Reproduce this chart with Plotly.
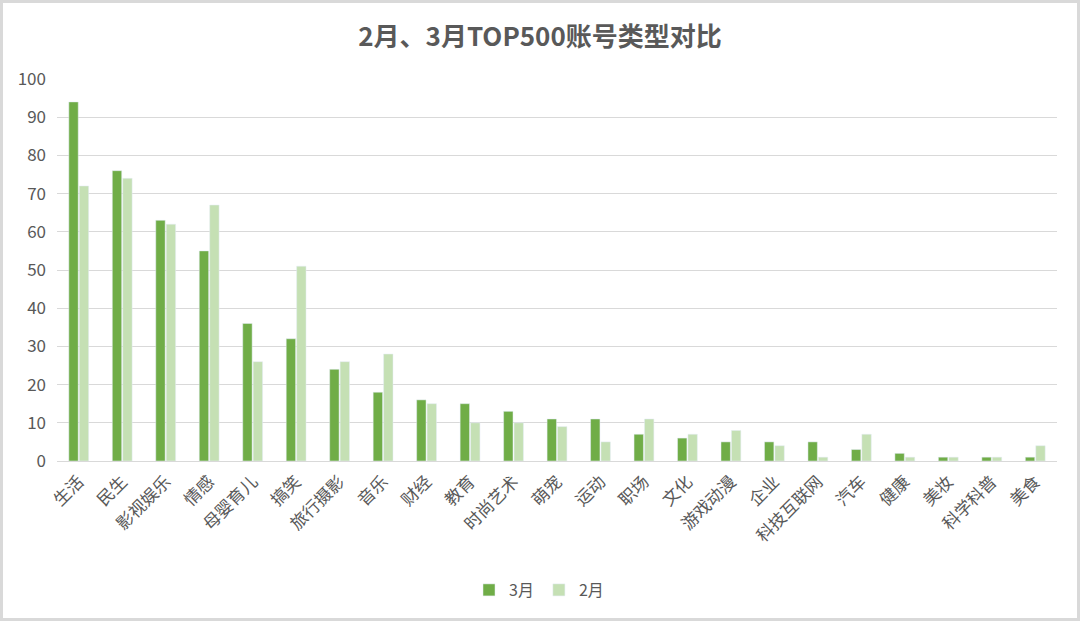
import plotly.graph_objects as go

categories = ["生活", "民生", "影视娱乐", "情感", "母婴育儿", "搞笑", "旅行摄影", "音乐", "财经", "教育",
              "时尚艺术", "萌宠", "运动", "职场", "文化", "游戏动漫", "企业", "科技互联网", "汽车", "健康",
              "美妆", "科学科普", "美食"]
march = [94, 76, 63, 55, 36, 32, 24, 18, 16, 15, 13, 11, 11, 7, 6, 5, 5, 5, 3, 2, 1, 1, 1]
feb = [72, 74, 62, 67, 26, 51, 26, 28, 15, 10, 10, 9, 5, 11, 7, 8, 4, 1, 7, 1, 1, 1, 4]
y_ticks = [0, 10, 20, 30, 40, 50, 60, 70, 80, 90, 100]

W, H = 1080, 621
L, R, T, B = 57, 23, 79, 160
pw, ph = W - L - R, H - T - B

font = "Noto Sans CJK SC, Microsoft YaHei, sans-serif"

fig = go.Figure()
fig.add_trace(go.Bar(name="3月", x=categories, y=march, marker_color="#70AD47"))
fig.add_trace(go.Bar(name="2月", x=categories, y=feb, marker_color="#C5E0B4"))

fig.update_layout(
    width=W, height=H,
    margin=dict(l=L, r=R, t=T, b=B, autoexpand=False),
    paper_bgcolor="white", plot_bgcolor="white",
    barmode="group", bargap=0.52, bargroupgap=0.1,
    font=dict(family=font, color="#595959", size=15),
    title=dict(text="<b>2月、3月TOP500账号类型对比</b>", x=0.5, xanchor="center",
               y=1 - 37 / H, yanchor="middle",
               font=dict(size=26, color="#595959", family=font)),
    showlegend=True,
    legend=dict(orientation="h", x=0.482, xanchor="center", y=-(590 - T - ph) / ph,
                yanchor="middle", font=dict(size=16, color="#595959"),
                itemwidth=30, traceorder="normal"),
    xaxis=dict(tickangle=-45, showline=True, linecolor="#d9d9d9", linewidth=1,
               ticks="", automargin=False, ticklabelstandoff=3,
               tickfont=dict(size=17, color="#595959")),
    yaxis=dict(range=[0, 100], tickvals=y_ticks, showgrid=True, gridcolor="#d9d9d9",
               gridwidth=1, zeroline=False, ticks="", automargin=False,
               ticklabelstandoff=10,
               tickfont=dict(size=17, color="#595959")),
    shapes=[dict(type="rect", xref="paper", yref="paper",
                 x0=(1.5 - L) / pw, x1=1 + (R - 1.5) / pw,
                 y0=-(B - 1.5) / ph, y1=1 + (T - 1.5) / ph,
                 line=dict(color="#d9d9d9", width=3), layer="below")],
)

fig.write_html("out.html", config={"displayModeBar": False},
               post_script="document.body.style.margin='0';document.body.style.overflow='hidden';")
